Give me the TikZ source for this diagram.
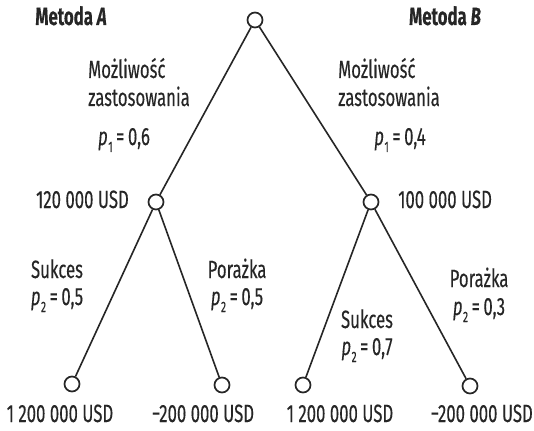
\documentclass[tikz,border=0pt]{standalone}
\usepackage{fontspec}
\setmainfont[FakeStretch=0.67,FakeBold=0.2]{Fira Sans}
\definecolor{ink}{HTML}{262626}
% probability label: italic p, lowered index, value
\newcommand\probval[2]{\textit{p}\kern0.02em\raisebox{-0.28em}{\fontsize{15}{15}\selectfont #1}\kern0.14em=\kern0.14em#2}
\begin{document}
\begin{tikzpicture}[x=1pt,y=-1pt,
  chance/.style={circle,draw=ink,line width=1.7pt,minimum size=15pt,inner sep=0pt,fill=white},
  branch/.style={draw=ink,line width=1.6pt},
  lbl/.style={text=ink,inner sep=0pt,font=\fontsize{25}{30}\selectfont},
  head/.style={lbl,font=\fontsize{25}{30}\selectfont\bfseries}]
\useasboundingbox (0,0) rectangle (534,430);
\fill[white] (0,0) rectangle (534,430);

% decision tree nodes
\node[chance] (root) at (255,20) {};
\node[chance] (a) at (156,202) {};
\node[chance] (b) at (371,202) {};
\node[chance] (a1) at (72,384) {};
\node[chance] (a2) at (222,385) {};
\node[chance] (b1) at (303,385) {};
\node[chance] (b2) at (470,386) {};

\draw[branch] (root) -- (a);
\draw[branch] (root) -- (b);
\draw[branch] (a) -- (a1);
\draw[branch] (a) -- (a2);
\draw[branch] (b) -- (b1);
\draw[branch] (b) -- (b2);

% headings
\node[head,anchor=base] (ha) at (71,25) {Metoda \textit{A}};
\node[head,anchor=base] (hb) at (445,25) {Metoda \textit{B}};

% first-stage labels
\node[lbl,anchor=base west] (ma) at (88,78) {Możliwość};
\node[lbl,anchor=base west] (za) at (88,106) {zastosowania};
\node[lbl,anchor=base] (pa) at (124,145) {\probval{1}{0,6}};
\node[lbl,anchor=base west] (mb) at (338,78) {Możliwość};
\node[lbl,anchor=base west] (zb) at (338,106) {zastosowania};
\node[lbl,anchor=base] (pb) at (400,145) {\probval{1}{0,4}};

\node[lbl,anchor=base east] (va) at (129,208) {120 000 USD};
\node[lbl,anchor=base west] (vb) at (398,208) {100 000 USD};

% second-stage labels
\node[lbl,anchor=base] (sa) at (57,278) {Sukces};
\node[lbl,anchor=base] (psa) at (57,305) {\probval{2}{0,5}};
\node[lbl,anchor=base] (fa) at (237,278) {Porażka};
\node[lbl,anchor=base] (pfa) at (237,305) {\probval{2}{0,5}};
\node[lbl,anchor=base] (sb) at (367,328) {Sukces};
\node[lbl,anchor=base] (psb) at (367,355) {\probval{2}{0,7}};
\node[lbl,anchor=base] (fb) at (479,287) {Porażka};
\node[lbl,anchor=base] (pfb) at (479,315) {\probval{2}{0,3}};

% outcomes
\node[lbl,anchor=base] (oa1) at (60,422) {1 200 000 USD};
\node[lbl,anchor=base] (oa2) at (203,422) {−200 000 USD};
\node[lbl,anchor=base] (ob1) at (340,422) {1 200 000 USD};
\node[lbl,anchor=base east] (ob2) at (533,422) {−200 000 USD};
\end{tikzpicture}
\end{document}
